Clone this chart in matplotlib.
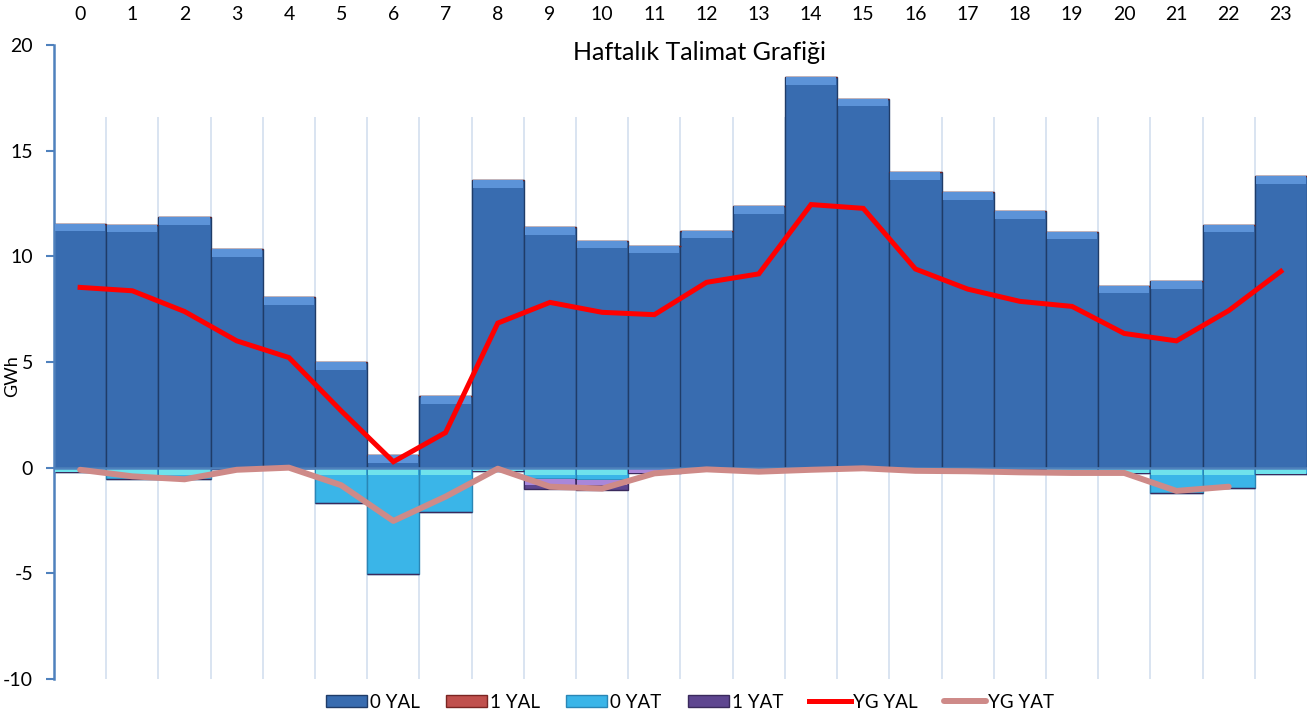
import numpy as np
import matplotlib
matplotlib.use("Agg")
import matplotlib.pyplot as plt
from matplotlib.patches import Patch
from matplotlib.lines import Line2D

plt.rcParams['font.family'] = ['Lato', 'DejaVu Sans']

hours = list(range(24))

# GWh per hour
yal_0 = [11.53, 11.49, 11.85, 10.33, 8.06, 4.98, 0.59, 3.37, 13.59, 11.37, 10.74, 10.51,
         11.22, 12.37, 18.47, 17.44, 13.98, 13.03, 12.13, 11.17, 8.60, 8.82, 11.50, 13.79]
yal_1 = [0.0] * 24
yat_0 = [-0.20, -0.55, -0.55, -0.05, -0.03, -1.66, -5.03, -2.10, -0.15, -0.55, -0.57, 0.0,
         -0.05, -0.05, -0.05, -0.05, -0.05, -0.05, -0.05, -0.10, -0.25, -1.18, -0.95, -0.30]
yat_1 = [0.0, 0.0, 0.0, 0.0, 0.0, 0.0, 0.0, 0.0, 0.0, -0.47, -0.48, -0.25,
         0.0, 0.0, 0.0, 0.0, 0.0, 0.0, 0.0, 0.0, 0.0, 0.0, 0.0, 0.0]
yg_yal = [8.53, 8.37, 7.39, 6.00, 5.21, 2.69, 0.28, 1.66, 6.84, 7.82, 7.35, 7.24,
          8.77, 9.17, 12.45, 12.27, 9.40, 8.45, 7.87, 7.63, 6.35, 6.00, 7.43, 9.29]
yg_yat = [-0.10, -0.41, -0.55, -0.10, 0.00, -0.83, -2.52, -1.37, -0.05, -0.90, -0.99, -0.27,
          -0.08, -0.19, -0.10, -0.03, -0.15, -0.17, -0.22, -0.25, -0.25, -1.10, -0.90, np.nan]

axis_blue = '#4F81BD'
c_yal0, e_yal0, t_yal0 = '#386CB0', '#1F3C68', '#5C93D8'
c_yal1, e_yal1 = '#C0504D', '#7A2522'
c_yat0, e_yat0, t_yat0 = '#3AB5E8', '#2A86B5', '#6FE2EC'
c_yat1, e_yat1, t_yat1 = '#5E4690', '#3A2A5C', '#A987DA'

fig = plt.figure(figsize=(13.15, 7.17), dpi=100)
ax = fig.add_axes([54 / 1315, 1 - 679 / 717, 1253 / 1315, 634 / 717])

x = np.arange(24)
yal_0 = np.array(yal_0)
yat_0 = np.array(yat_0)
yat_1 = np.array(yat_1)

# vertical gridlines between categories
ax.vlines(np.arange(0.5, 23.5, 1), -10, 16.6, color='#D3DFEF', lw=1.2, zorder=0)

# bars (stacked, positive and negative separately)
ax.bar(x, yal_0, width=1.0, color=c_yal0, edgecolor=e_yal0, lw=1.0, zorder=2)
ax.bar(x, yal_1, bottom=yal_0, width=1.0, color=c_yal1, edgecolor=e_yal1, lw=1.0, zorder=2)
ax.bar(x, yat_0, width=1.0, color=c_yat0, edgecolor=e_yat0, lw=1.0, zorder=2)
ax.bar(x, yat_1, bottom=yat_0, width=1.0, color=c_yat1, edgecolor=e_yat1, lw=1.0, zorder=2)

# bevel highlights
bev = 0.35
ax.bar(x, np.minimum(bev, yal_0), bottom=yal_0 - np.minimum(bev, yal_0), width=0.96,
       color=t_yal0, lw=0, zorder=3)
nz0 = yat_0 < 0
ax.bar(x[nz0], -np.minimum(bev, -yat_0[nz0]), width=0.96, color=t_yat0, lw=0, zorder=3)
nz1 = yat_1 < 0
ax.bar(x[nz1], -np.minimum(0.25, -yat_1[nz1]), bottom=yat_0[nz1], width=0.96,
       color=t_yat1, lw=0, zorder=3)

# zero axis
ax.axhline(0, color=axis_blue, lw=1.8, zorder=4)

# lines
ax.plot(x, yg_yal, color='#FF0000', lw=3.6, zorder=6, solid_joinstyle='miter')
ax.plot(x, yg_yat, color='#CE8A88', lw=4.3, zorder=5, solid_capstyle='round')

ax.set_xlim(-0.5, 23.5)
ax.set_ylim(-10, 20)
ax.set_yticks([-10, -5, 0, 5, 10, 15, 20])
ax.set_yticklabels(['-10', '-5', '0', '5', '10', '15', '20'])
ax.set_xticks(x)
ax.set_xticklabels([str(h) for h in hours])
ax.tick_params(axis='x', top=True, labeltop=True, bottom=False, labelbottom=False,
               length=0, pad=16, labelsize=14)
ax.tick_params(axis='y', direction='out', length=6, width=1.5, color=axis_blue,
               labelsize=14, pad=9)

for s in ['top', 'right', 'bottom']:
    ax.spines[s].set_visible(False)
ax.spines['left'].set_color(axis_blue)
ax.spines['left'].set_linewidth(1.8)

fig.text(699 / 1315, 1 - 52 / 717, 'Haftalık Talimat Grafiği', ha='center', va='center', fontsize=18)
fig.text(12 / 1315, 1 - 376 / 717, 'GWh', rotation=90, ha='center', va='center', fontsize=13)

handles = [
    Patch(facecolor=c_yal0, edgecolor=e_yal0),
    Patch(facecolor=c_yal1, edgecolor=e_yal1),
    Patch(facecolor=c_yat0, edgecolor=e_yat0),
    Patch(facecolor=c_yat1, edgecolor=e_yat1),
    Line2D([], [], color='#FF0000', lw=3.6),
    Line2D([], [], color='#CE8A88', lw=4.3, solid_capstyle='round'),
]
labels = ['0 YAL', '1 YAL', '0 YAT', '1 YAT', 'YG YAL', 'YG YAT']
fig.legend(handles, labels, loc='center', bbox_to_anchor=(690 / 1315, 1 - 702 / 717), ncol=6,
           frameon=False, fontsize=13.5, handlelength=2.2, handleheight=0.55, handletextpad=0.15,
           columnspacing=1.4)

fig.savefig('out.png', dpi=100)
